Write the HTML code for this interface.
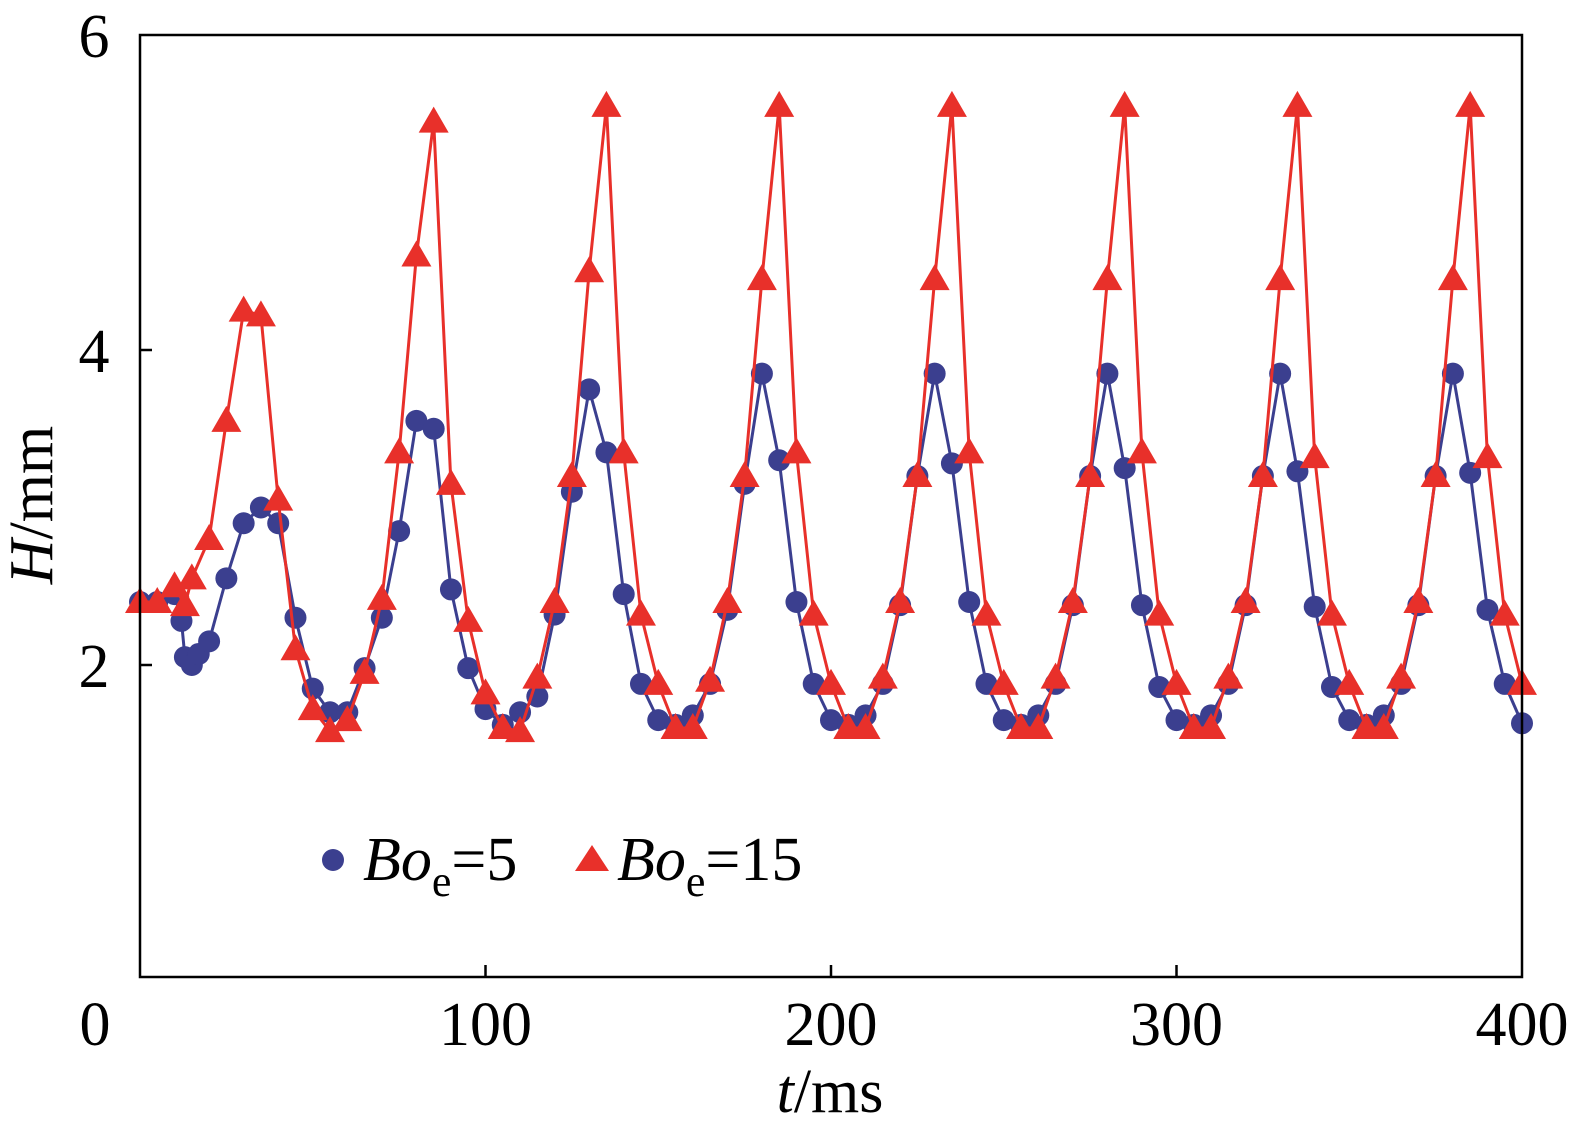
<!DOCTYPE html>
<html><head><meta charset="utf-8"><style>
body{margin:0;background:#fff}
svg{display:block;font-family:"Liberation Serif",serif}
</style></head><body>
<svg id="chart" width="1574" height="1136">
<g id="plot"></g>
</svg>
<script>
const ns="http://www.w3.org/2000/svg";
const blueT=[0,5,10,12,13,15,17,20,25,30,35,40,45,50,55,60,65,70,75,80,85,90,95,100,105,110,115,120,125,130,135,140,145,150,155,160,165,170,175,180,185,190,195,200,205,210,215,220,225,230,235,240,245,250,255,260,265,270,275,280,285,290,295,300,305,310,315,320,325,330,335,340,345,350,355,360,365,370,375,380,385,390,395,400];
const blueH=[2.4,2.4,2.45,2.28,2.05,2.0,2.07,2.15,2.55,2.9,3.0,2.9,2.3,1.85,1.7,1.7,1.98,2.3,2.85,3.55,3.5,2.48,1.98,1.72,1.62,1.7,1.8,2.32,3.1,3.75,3.35,2.45,1.88,1.65,1.62,1.68,1.88,2.35,3.15,3.85,3.3,2.4,1.88,1.65,1.62,1.68,1.88,2.38,3.2,3.85,3.28,2.4,1.88,1.65,1.62,1.68,1.88,2.38,3.2,3.85,3.25,2.38,1.86,1.65,1.62,1.68,1.88,2.38,3.2,3.85,3.23,2.37,1.86,1.65,1.62,1.68,1.88,2.38,3.2,3.85,3.22,2.35,1.88,1.63];
const redT=[0,5,10,13,15,20,25,30,35,40,45,50,55,60,65,70,75,80,85,90,95,100,105,110,115,120,125,130,135,140,145,150,155,160,165,170,175,180,185,190,195,200,205,210,215,220,225,230,235,240,245,250,255,260,265,270,275,280,285,290,295,300,305,310,315,320,325,330,335,340,345,350,355,360,365,370,375,380,385,390,395,400];
const redH=[2.4,2.4,2.5,2.38,2.55,2.8,3.55,4.25,4.22,3.05,2.1,1.72,1.58,1.65,1.95,2.42,3.35,4.6,5.45,3.15,2.28,1.82,1.6,1.58,1.92,2.4,3.2,4.5,5.55,3.35,2.32,1.88,1.6,1.6,1.9,2.4,3.2,4.45,5.55,3.35,2.32,1.88,1.6,1.6,1.92,2.4,3.2,4.45,5.55,3.35,2.32,1.88,1.6,1.6,1.92,2.4,3.2,4.45,5.55,3.35,2.32,1.88,1.6,1.6,1.92,2.4,3.2,4.45,5.55,3.32,2.32,1.88,1.6,1.6,1.92,2.4,3.2,4.45,5.55,3.32,2.32,1.88];
const xTicks=[0,100,200,300,400];
const yTicks=[2,4,6];
const X0=140,X1=1522,Y0=980,Y6=35;
const FS=62;
const xs=t=>X0+(X1-X0)*t/400;
const ys=h=>Y0+(Y6-Y0)*h/6;
const svg=document.getElementById('chart');
function mk(tag,attrs,parent){const e=document.createElementNS(ns,tag);for(const k in attrs)e.setAttribute(k,attrs[k]);(parent||svg).appendChild(e);return e;}
const frame=mk('rect',{x:X0,y:Y6,width:X1-X0,height:977-Y6,fill:'none',stroke:'#000','stroke-width':2.5});


xTicks.forEach(v=>{
  const x=xs(v);
  if(v>0&&v<400){const l=mk('line',{x1:x,x2:x,y1:977,y2:965,stroke:'#000','stroke-width':2.5});
  
  }
  const t=mk('text',{x:v===0?95:x,y:1045,'font-size':FS,'text-anchor':'middle'});t.textContent=v;
  
  
});
yTicks.forEach(v=>{
  const y=ys(v);
  if(v<6){const l=mk('line',{x1:X0,x2:X0+12,y1:y,y2:y,stroke:'#000','stroke-width':2.5});
  
  }
  const t=mk('text',{x:94,y:y+22,'font-size':FS,'text-anchor':'middle'});t.textContent=v;
  
  
});
const plot=document.getElementById('plot');
function series(T,H,color,shape,name){
  const pl=mk('polyline',{points:T.map((t,i)=>xs(t)+','+ys(H[i])).join(' '),fill:'none',stroke:color,'stroke-width':3},plot);
  
  
  T.forEach((t,i)=>{
    const x=xs(t),y=ys(H[i]);let m;
    if(shape==='c')m=mk('circle',{cx:x,cy:y,r:11,fill:color},plot);
    else m=mk('polygon',{points:`${x},${y-15} ${x-15},${y+11} ${x+15},${y+11}`,fill:color},plot);
    
    
  });
}
series(blueT,blueH,'#3b3f8f','c','bo5');
series(redT,redH,'#e8302a','t','bo15');
const lc=mk('circle',{cx:333,cy:860,r:11,fill:'#3b3f8f'});


const lt1=mk('text',{x:363,y:880,'font-size':FS});
lt1.innerHTML='<tspan font-style="italic">Bo</tspan><tspan font-size="44" dy="16">e</tspan><tspan dy="-16">=5</tspan>';


const lr=mk('polygon',{points:'592,845 575,871 609,871',fill:'#e8302a'});


const lt2=mk('text',{x:617,y:880,'font-size':FS});
lt2.innerHTML='<tspan font-style="italic">Bo</tspan><tspan font-size="44" dy="16">e</tspan><tspan dy="-16">=15</tspan>';


const xt=mk('text',{x:830,y:1112,'font-size':FS,'text-anchor':'middle'});
xt.innerHTML='<tspan font-style="italic">t</tspan>/ms';


const yt=mk('text',{x:0,y:0,'font-size':FS,'text-anchor':'middle',transform:'translate(52,505) rotate(-90)'});
yt.innerHTML='<tspan font-style="italic">H</tspan>/mm';


</script>
</body></html>
